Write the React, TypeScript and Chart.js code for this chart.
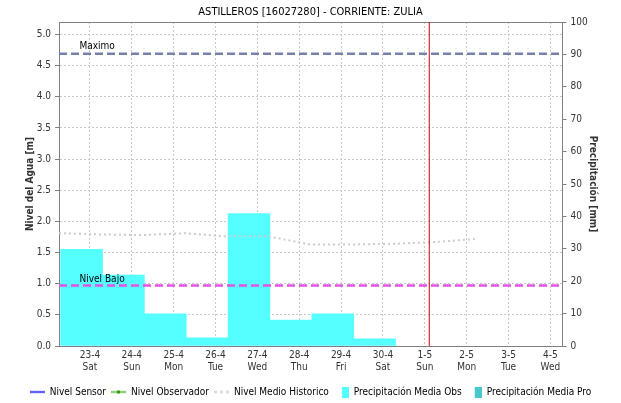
import React, { useEffect, useRef } from 'react';
import { Chart, registerables } from 'chart.js';

Chart.register(...registerables);

// ---------------- data ----------------
const TITLE = 'ASTILLEROS [16027280] - CORRIENTE: ZULIA';
const dayLabels = ['23-4', '24-4', '25-4', '26-4', '27-4', '28-4', '29-4', '30-4', '1-5', '2-5', '3-5', '4-5'];
const weekdayLabels = ['Sat', 'Sun', 'Mon', 'Tue', 'Wed', 'Thu', 'Fri', 'Sat', 'Sun', 'Mon', 'Tue', 'Wed'];
// Precipitación media observada (mm), one per day starting 23-4
const precipObs = [29.8, 21.9, 9.9, 2.5, 40.9, 8.0, 9.9, 2.2];
// Precipitación media pronosticada (mm) - none
const precipPro: number[] = [];
// Nivel medio histórico (m), one per day starting 23-4
const histMean = [1.81, 1.79, 1.78, 1.81, 1.76, 1.76, 1.63, 1.63, 1.64, 1.67, 1.72];
const nivelSensor: number[] = [];
const nivelObservador: number[] = [];
const nivelMaximo = 4.69;
const nivelBajo = 0.97;
const nowDay = 8.106; // current time marker, in days after 23-4 00:00
const levelTicksMax = 5.0;
const levelAxisMax = 5.2;
const precipAxisMax = 100;

// time layout (days relative to 23-4)
const X_MIN = -0.74;
const X_MAX = 11.29;
const BAR_SHIFT = -0.2;
const HIST_SHIFT = -0.74;

const FONT = "'Liberation Sans Narrow', 'DejaVu Sans Condensed', 'Liberation Sans', Arial, sans-serif";

function makeIcon(kind: string): HTMLCanvasElement {
  const c = document.createElement('canvas');
  c.width = 15;
  c.height = 11;
  const g = c.getContext('2d')!;
  if (kind === 'sensor') {
    g.strokeStyle = '#0000ff';
    g.lineWidth = 1.5;
    g.beginPath(); g.moveTo(0, 5.5); g.lineTo(15, 5.5); g.stroke();
  } else if (kind === 'obs') {
    g.strokeStyle = '#44bb22';
    g.lineWidth = 1.5;
    g.beginPath(); g.moveTo(0, 5.5); g.lineTo(15, 5.5); g.stroke();
    g.fillStyle = '#2a9a10';
    g.fillRect(6, 4, 3, 3);
  } else if (kind === 'hist') {
    g.strokeStyle = '#cfcfcf';
    g.lineWidth = 2;
    g.setLineDash([3, 3]);
    g.beginPath(); g.moveTo(0, 5.5); g.lineTo(15, 5.5); g.stroke();
  } else if (kind === 'pobs') {
    g.fillStyle = '#55ffff';
    g.fillRect(8, 0, 7, 11);
  } else {
    g.fillStyle = '#48c8c8';
    g.fillRect(8, 0, 7, 11);
  }
  return c;
}

const levelLabelsPlugin = {
  id: 'levelLabels',
  afterDatasetsDraw(chart: any) {
    const { ctx, scales } = chart;
    const x = scales.x.getPixelForValue(-0.25);
    ctx.save();
    ctx.font = `10px ${FONT}`;
    ctx.fillStyle = '#000';
    ctx.textAlign = 'left';
    ctx.textBaseline = 'bottom';
    ctx.fillText('Maximo', x, scales.y.getPixelForValue(nivelMaximo) - 2);
    ctx.fillText('Nivel Bajo', x, scales.y.getPixelForValue(nivelBajo) - 1);
    ctx.restore();
  },
};

export default function App() {
  const ref = useRef<HTMLCanvasElement>(null);

  useEffect(() => {
    document.body.style.margin = '0';
    const icons = ['sensor', 'obs', 'hist', 'pobs', 'ppro'].map(makeIcon);
    const legendNames = ['Nivel Sensor', 'Nivel Observador', 'Nivel Medio Historico', 'Precipitación Media Obs', 'Precipitación Media Pro'];

    const chart = new Chart(ref.current!, {
      type: 'bar',
      data: {
        datasets: [
          {
            type: 'line', label: 'Nivel Sensor', yAxisID: 'y',
            data: nivelSensor.map((v, i) => ({ x: i, y: v })),
            borderColor: '#0000ff', borderWidth: 1.5, pointRadius: 0,
          },
          {
            type: 'line', label: 'Nivel Observador', yAxisID: 'y',
            data: nivelObservador.map((v, i) => ({ x: i, y: v })),
            borderColor: '#44bb22', borderWidth: 1.5, pointRadius: 2,
          },
          {
            type: 'line', label: 'Maximo', yAxisID: 'y',
            data: [{ x: X_MIN, y: nivelMaximo }, { x: X_MAX, y: nivelMaximo }],
            borderColor: '#7482aa', borderWidth: 2.5, borderDash: [8, 4], pointRadius: 0,
          },
          {
            type: 'line', label: 'Nivel Bajo', yAxisID: 'y',
            data: [{ x: X_MIN, y: nivelBajo }, { x: X_MAX, y: nivelBajo }],
            borderColor: '#e650e6', borderWidth: 2.5, borderDash: [8, 4], pointRadius: 0,
          },
          {
            type: 'line', label: 'Ahora', yAxisID: 'y',
            data: [{ x: nowDay, y: 0 }, { x: nowDay, y: levelAxisMax }],
            borderColor: '#cc0000', borderWidth: 1, pointRadius: 0,
          },
          {
            type: 'line', label: 'Nivel Medio Historico', yAxisID: 'y',
            data: histMean.map((v, i) => ({ x: i + HIST_SHIFT, y: v })),
            borderColor: '#cccccc', borderWidth: 2, borderDash: [2, 3], pointRadius: 0, tension: 0,
          },
          {
            type: 'bar', label: 'Precipitación Media Obs', yAxisID: 'y2',
            data: precipObs.map((v, i) => ({ x: i + BAR_SHIFT, y: v })),
            backgroundColor: '#55ffff', borderWidth: 0,
            barPercentage: 1, categoryPercentage: 1, grouped: false, stack: 'p',
          },
          {
            type: 'bar', label: 'Precipitación Media Pro', yAxisID: 'y2',
            data: precipPro.map((v, i) => ({ x: i + BAR_SHIFT, y: v })),
            backgroundColor: '#48c8c8', borderWidth: 0,
            barPercentage: 1, categoryPercentage: 1, grouped: false, stack: 'p',
          },
        ] as any,
      },
      options: {
        animation: false,
        responsive: false,
        layout: { padding: { top: 0, left: 0, right: 0, bottom: -4 } },
        plugins: {
          title: {
            display: true, text: TITLE, color: '#000',
            font: { family: FONT, size: 11, weight: 'normal' as any, lineHeight: 1.2 },
            padding: { top: 5.4, bottom: 3.4 },
          },
          legend: {
            display: true, position: 'bottom',
            labels: {
              usePointStyle: true, pointStyleWidth: 15, boxHeight: 10, padding: 5,
              color: '#000', font: { family: FONT, size: 10 },
              generateLabels: () => legendNames.map((t, i) => ({
                text: t, pointStyle: icons[i] as any, fillStyle: 'transparent',
                strokeStyle: 'transparent', lineWidth: 0, hidden: false, datasetIndex: i,
              })),
            },
            onClick: () => {},
          },
          tooltip: { enabled: false },
        },
        scales: {
          x: {
            type: 'linear', position: 'bottom', min: X_MIN, max: X_MAX, offset: false,
            afterBuildTicks: (s: any) => { s.ticks = dayLabels.map((_, i) => ({ value: i })); },
            afterFit: (s: any) => { s.height = 36; },
            ticks: {
              color: '#333', font: { family: FONT, size: 10, lineHeight: 1.2 }, padding: 3,
              maxRotation: 0, autoSkip: false,
              callback: (v: any) => [dayLabels[v], weekdayLabels[v]] as any,
            },
            grid: { color: '#c8c8c8', lineWidth: 1, drawTicks: false, offset: false },
            border: { display: true, color: '#808080', dash: [2, 2], z: 1 },
          },
          xTop: {
            type: 'linear', position: 'top', min: X_MIN, max: X_MAX, offset: false,
            ticks: { display: false },
            grid: { display: false, drawTicks: false },
            border: { display: true, color: '#808080' },
          },
          y: {
            type: 'linear', position: 'left', min: 0, max: levelAxisMax,
            afterFit: (s: any) => { s.width = 59; },
            ticks: {
              stepSize: 0.5, includeBounds: false, color: '#333', padding: 4,
              font: { family: FONT, size: 10 },
              callback: (v: any) => (v <= levelTicksMax + 1e-6 ? Number(v).toFixed(1) : ''),
            },
            grid: { color: '#c8c8c8', lineWidth: 1, drawTicks: true, tickLength: 4, tickColor: '#808080' },
            border: { display: true, color: '#808080', dash: [2, 2] },
            title: {
              display: true, text: 'Nivel del Agua [m]', color: '#333',
              font: { family: FONT, size: 10, weight: 'bold' as any }, padding: { top: 24, bottom: 0 },
            },
          },
          y2: {
            type: 'linear', position: 'right', min: 0, max: precipAxisMax,
            afterFit: (s: any) => { s.width = 58.5; },
            ticks: {
              stepSize: 10, color: '#333', padding: 4,
              font: { family: FONT, size: 10 },
            },
            grid: { drawOnChartArea: false, drawTicks: true, tickLength: 4, tickColor: '#808080' },
            border: { display: true, color: '#808080' },
            title: {
              display: true, text: 'Precipitación [mm]', color: '#333',
              font: { family: FONT, size: 10, weight: 'bold' as any }, padding: { top: 22, bottom: 0 },
            },
          },
        },
      } as any,
      plugins: [levelLabelsPlugin],
    });
    return () => chart.destroy();
  }, []);

  return (
    <div style={{ width: 621, height: 403 }}>
      <canvas ref={ref} width={621} height={403} style={{ display: 'block' }} />
    </div>
  );
}
